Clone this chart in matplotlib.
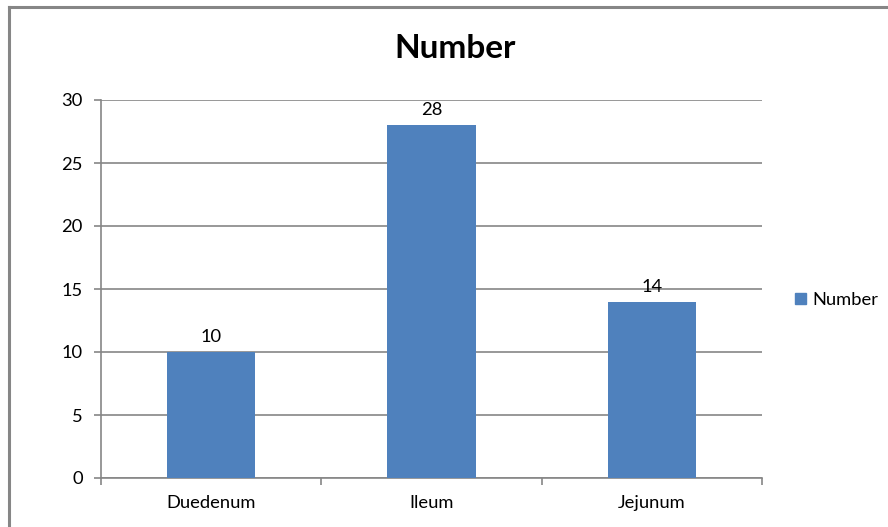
import numpy as np
import matplotlib.pyplot as plt
from matplotlib.lines import Line2D

categories = ['Duedenum', 'Ileum', 'Jejunum']
values = [10, 28, 14]
series_name = 'Number'
yticks = [0, 5, 10, 15, 20, 25, 30]

plt.rcParams['font.family'] = ['Lato', 'DejaVu Sans']

W, H = 888, 527
fig = plt.figure(figsize=(W / 100, H / 100), dpi=100)
ax = fig.add_axes([101 / W, 1 - 478 / H, (762 - 101) / W, (478 - 100) / H])

grey = '#868686'
fs = 13.2
x = np.arange(len(categories))
bars = ax.bar(x, values, width=0.4, color='#4F81BD', label=series_name, zorder=3)

ax.set_xlim(-0.5, len(categories) - 0.5)
ax.set_ylim(0, 30)
ax.set_yticks(yticks)
ax.yaxis.grid(True, color=grey, linewidth=1.2, zorder=0)
ax.tick_params(axis='y', length=5, color=grey, width=1.2, labelsize=fs, pad=8)

# categories labelled at centres, tick marks at boundaries
ax.set_xticks(x)
ax.set_xticklabels(categories)
ax.tick_params(axis='x', length=0, labelsize=fs, pad=12)
ax.set_xticks(np.arange(len(categories) + 1) - 0.5, minor=True)
ax.tick_params(axis='x', which='minor', length=5, color=grey, width=1.2)

for s in ['top', 'right']:
    ax.spines[s].set_visible(False)
for s in ['left', 'bottom']:
    ax.spines[s].set_color(grey)
    ax.spines[s].set_linewidth(1.2)

for b, v in zip(bars, values):
    ax.annotate(str(v), (b.get_x() + b.get_width() / 2, v), xytext=(0, 5),
                textcoords='offset points', ha='center', va='bottom', fontsize=fs)

fig.text(455 / W, 1 - 48 / H, 'Number', ha='center', va='center',
         fontsize=24, fontweight='bold')

fig.legend(handles=[plt.Rectangle((0, 0), 1, 1, color='#4F81BD')], labels=[series_name],
           loc='center left', bbox_to_anchor=(778 / W, 1 - 300 / H), frameon=False,
           fontsize=fs, handlelength=0.6, handleheight=0.6, handletextpad=0.4)

# outer chart border (only top and left visible)
fig.add_artist(Line2D([8.5 / W, 8.5 / W], [0, 1 - 6.5 / H], color=grey, linewidth=2.2))
fig.add_artist(Line2D([8.5 / W, 1], [1 - 6.5 / H, 1 - 6.5 / H], color=grey, linewidth=2.2))

fig.savefig('out.png', dpi=100)
